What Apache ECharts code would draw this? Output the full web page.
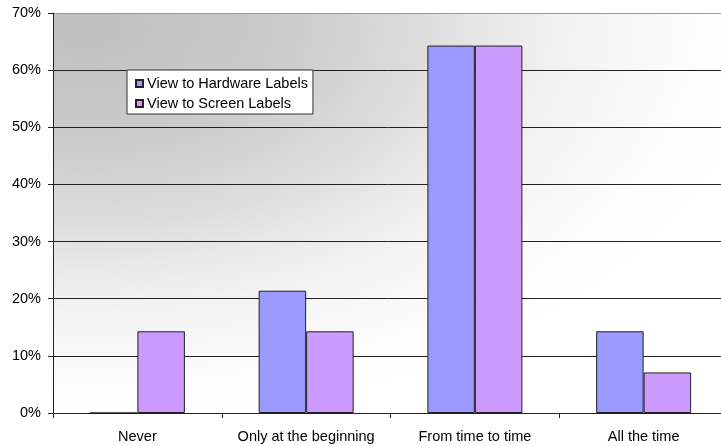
<!DOCTYPE html>
<html>
<head>
<meta charset="utf-8">
<script src="https://cdn.jsdelivr.net/npm/echarts@6/dist/echarts.min.js"></script>
<style>
html,body{margin:0;padding:0;background:#fff;}
#chart{width:721px;height:446px;}
</style>
</head>
<body>
<div id="chart"></div>
<script>
const categories = ['Never', 'Only at the beginning', 'From time to time', 'All the time'];
const seriesNames = ['View to Hardware Labels', 'View to Screen Labels'];
const hardwareValues = [0, 21.4, 64.3, 14.3];
const screenValues = [14.3, 14.3, 64.3, 7.1];
const yTicks = { min: 0, max: 70, interval: 10 };

const chart = echarts.init(document.getElementById('chart'), null, { renderer: 'canvas' });
const font = 'Liberation Sans, Arial, sans-serif';
const gridColors = ['#222', '#222', '#222', '#222', '#222', '#222', '#222', '#9a9a9a'];
const plot = { left: 53, top: 13, width: 675, height: 400 };

chart.setOption({
  animation: false,
  backgroundColor: '#ffffff',
  textStyle: { fontFamily: font },
  graphic: [{
    type: 'rect',
    silent: true,
    z: -10,
    x: plot.left, y: plot.top,
    scaleX: plot.width / plot.height,
    shape: { x: 0, y: 0, width: plot.height, height: plot.height },
    style: {
      fill: {
        type: 'radial', x: 0.05, y: 0.03, r: 1,
        colorStops: [
          { offset: 0, color: '#bfbfbf' },
          { offset: 0.29, color: '#cbcbcb' },
          { offset: 0.5, color: '#dddddd' },
          { offset: 0.6, color: '#e8e8e8' },
          { offset: 0.72, color: '#f3f3f3' },
          { offset: 0.9, color: '#fcfcfc' },
          { offset: 1, color: '#ffffff' }
        ]
      }
    }
  }],
  grid: {
    left: plot.left, top: plot.top, width: plot.width, height: plot.height,
    outerBoundsMode: 'none',
    containLabel: false,
    show: false
  },
  legend: {
    orient: 'vertical',
    left: 127, top: 70,
    backgroundColor: '#ffffff',
    borderColor: '#333',
    borderWidth: 1,
    borderRadius: 0,
    padding: [6, 5, 3, 8],
    itemWidth: 7, itemHeight: 7, itemGap: 5,
    icon: 'rect',
    textStyle: { fontFamily: font, fontSize: 14.5, color: '#000', lineHeight: 14, padding: [0, 0, 0, -1] },
    data: seriesNames
  },
  xAxis: {
    type: 'category',
    data: categories,
    axisLine: { lineStyle: { color: '#222', width: 1 } },
    axisTick: { show: true, length: 5, alignWithLabel: false, lineStyle: { color: '#222' } },
    axisLabel: { fontFamily: font, fontSize: 14.5, color: '#000', margin: 16, interval: 0 },
    splitLine: { show: false }
  },
  yAxis: {
    type: 'value',
    min: yTicks.min, max: yTicks.max, interval: yTicks.interval,
    axisLine: { show: true, lineStyle: { color: '#222', width: 1 } },
    axisTick: { show: true, length: 5, lineStyle: { color: '#222' } },
    axisLabel: { fontFamily: font, fontSize: 14.5, color: '#000', margin: 12, formatter: '{value}%' },
    splitLine: { show: true, lineStyle: { color: gridColors, width: 1 } }
  },
  series: [
    {
      name: seriesNames[0], type: 'bar', data: hardwareValues,
      barWidth: 47.5, barGap: '0%',
      itemStyle: { color: '#9999ff', borderColor: '#222', borderWidth: 1 }
    },
    {
      name: seriesNames[1], type: 'bar', data: screenValues,
      barWidth: 47.5, barGap: '0%',
      itemStyle: { color: '#cc99ff', borderColor: '#222', borderWidth: 1 }
    }
  ]
});
</script>
</body>
</html>
